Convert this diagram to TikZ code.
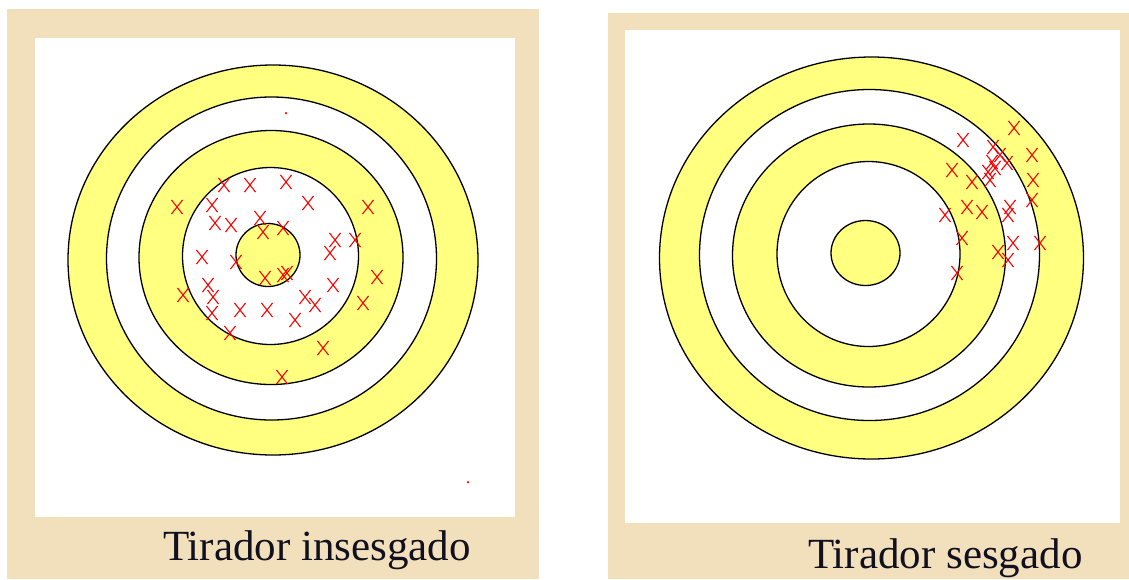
\documentclass[tikz,border=0pt]{standalone}
\usepackage{fontspec}
\setmainfont{Liberation Serif}
\usepackage{tikz}
\usetikzlibrary{shapes.misc}
\definecolor{paperbeige}{HTML}{F2DFBC}
\definecolor{ringyellow}{HTML}{FFFF80}
\definecolor{shotred}{HTML}{FF0000}
\definecolor{captionink}{HTML}{10101E}

\begin{document}
\begin{tikzpicture}[
    x=1pt, y=-1pt,
    ring/.style={draw=black, line width=1.3pt, fill=#1},
    hit/.style={cross out, draw=shotred, line width=1.1pt, minimum width=10pt, minimum height=13pt, inner sep=0pt},
    speck/.style={circle, fill=shotred, minimum size=2.5pt, inner sep=0pt},
    caption/.style={anchor=base west, inner sep=0pt, text=captionink, font=\fontsize{43}{50}\selectfont},
]
\useasboundingbox (0,0) rectangle (1129,579);

% Left panel
\fill[paperbeige] (7,9) rectangle (539,579);
\fill[white] (35,38) rectangle (515,517);
\foreach \cx/\cy/\rx/\ry/\c in {273/260/205/195/ringyellow, 271.5/258.5/165/161.5/white, 271/257.5/132/127/ringyellow, 270.5/256/88/88.5/white, 268/255/32/31.5/ringyellow} {
    \draw[ring=\c] (\cx,\cy) ellipse [x radius=\rx, y radius=\ry];
}
\foreach \px/\py [count=\k] in {224/185, 250/185, 286/182, 177/207, 212/205, 308/203, 368/207, 215/223, 231/225, 260/218, 263/232, 283/228, 335/240, 355/240, 330/253, 202/257, 236/262, 265/278, 283/275, 287/273, 377/277, 208/285, 183/295, 333/285, 213/297, 305/297, 315/305, 363/303, 240/310, 267/310, 212/313, 295/320, 230/333, 323/348, 282/377} {
    \node[hit] (shotL\k) at (\px,\py) {};
}
\node[speck] (speckA) at (286,113) {};
\node[speck] (speckB) at (468,482) {};
\node[caption] (capL) at (163,560) {Tirador insesgado};

% Right panel
\fill[paperbeige] (608,13) rectangle (1129,579);
\fill[white] (625,30) rectangle (1120,523);
\foreach \cx/\cy/\rx/\ry/\c in {871.5/258/212/201/ringyellow, 869.5/255/170/165.5/white, 869/255.5/136.5/131.5/ringyellow, 868.5/254/91.5/92.5/white, 865.5/253/34.5/32.5/ringyellow} {
    \draw[ring=\c] (\cx,\cy) ellipse [x radius=\rx, y radius=\ry];
}
\foreach \px/\py [count=\k] in {1014/128, 963/140, 993/147, 1000/155, 1032/155, 992/162, 1007/163, 995/168, 988/172, 952/170, 972/182, 990/180, 1033/180, 967/207, 982/212, 1010/207, 1008/215, 1032/200, 945/215, 962/238, 998/252, 1013/243, 1008/260, 1040/243, 957/273} {
    \node[hit] (shotR\k) at (\px,\py) {};
}
\node[caption] (capR) at (808,568) {Tirador sesgado};

\end{tikzpicture}
\end{document}
